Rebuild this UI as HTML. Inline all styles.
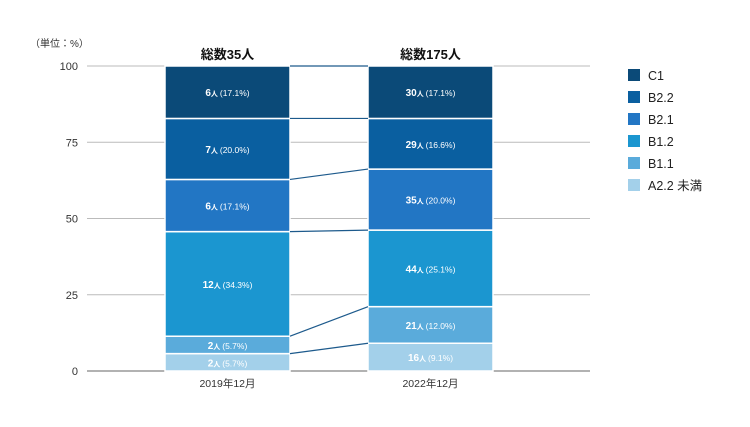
<!DOCTYPE html>
<html><head><meta charset="utf-8"><style>
body{margin:0;background:#fff;font-family:"Liberation Sans","Noto Sans CJK JP",sans-serif;}
svg text{font-family:"Liberation Sans","Noto Sans CJK JP",sans-serif;}
</style></head><body>
<svg id="c" width="750" height="422"></svg>
<script>
const categories=["2019年12月","2022年12月"];
const totals=["総数35人","総数175人"];
const levels=["A2.2 未満","B1.1","B1.2","B2.1","B2.2","C1"];
const counts2019=[2,2,12,6,7,6];
const pct2019=[5.7,5.7,34.3,17.1,20.0,17.1];
const counts2022=[16,21,44,35,29,30];
const pct2022=[9.1,12.0,25.1,20.0,16.6,17.1];
const ticks=[0,25,50,75,100];
const colors=["#a3d0ea","#5aabdb","#1b96d0","#2276c4","#0a5fa0","#0b4a78"];
const NS="http://www.w3.org/2000/svg";
const svg=document.getElementById('c');
function y(v){return 371-v*3.05;}
const barX=[165,368],barW=125;
function el(t,a,txt){const e=document.createElementNS(NS,t);for(const k in a)e.setAttribute(k,a[k]);if(txt!==undefined)e.textContent=txt;svg.appendChild(e);return e;}
let t=el('text',{x:30,y:47,'font-size':10,fill:'#333'},'（単位：%）');

ticks.forEach(v=>{
 const l=el('line',{x1:87,x2:590,y1:y(v),y2:y(v),stroke:v===0?'#666':'#bbb','stroke-width':1});
 
 const tt=el('text',{x:78,y:y(v)+4,'font-size':11,fill:'#333','text-anchor':'end'},v);
 
});
const series=[[counts2019,pct2019],[counts2022,pct2022]];
const bounds=[];
series.forEach((s,bi)=>{
 let cum=0;const b=[0];
 s[1].forEach((p,i)=>{
  const lo=cum,hi=(i===s[1].length-1)?100:cum+p;cum=hi;b.push(hi);
  const r=el('rect',{x:barX[bi],y:y(hi),width:barW,height:y(lo)-y(hi),fill:colors[i],stroke:'#fff','stroke-width':1.5});
  
  const tx=el('text',{x:barX[bi]+barW/2,y:(y(lo)+y(hi))/2+4,'text-anchor':'middle',fill:'#fff'});
  
  const a=document.createElementNS(NS,'tspan');a.setAttribute('font-size',10);a.setAttribute('font-weight','bold');a.textContent=s[0][i];tx.appendChild(a);
  const c=document.createElementNS(NS,'tspan');c.setAttribute('font-size',7);c.setAttribute('font-weight','bold');c.textContent='人 ';tx.appendChild(c);
  const d=document.createElementNS(NS,'tspan');d.setAttribute('font-size',8.5);d.textContent='('+p.toFixed(1)+'%)';tx.appendChild(d);
 });
 bounds.push(b);
 const tl=el('text',{x:barX[bi]+barW/2,y:59,'text-anchor':'middle','font-size':13,'font-weight':'bold',fill:'#111'},totals[bi]);
 
 const xl=el('text',{x:barX[bi]+barW/2,y:387,'text-anchor':'middle','font-size':10.5,fill:'#333'},categories[bi]);
 
});
for(let i=1;i<=6;i++){
 const l=el('line',{x1:barX[0]+barW,x2:barX[1],y1:y(bounds[0][i]),y2:y(bounds[1][i]),stroke:'#1d5a8c','stroke-width':1.2});
 
}
for(let i=5;i>=0;i--){
 const k=5-i,cy=75+k*22;
 const r=el('rect',{x:628,y:cy-6,width:12,height:12,fill:colors[i]});
 
 const tx=el('text',{x:648,y:cy+5,'font-size':12.5,fill:'#222'},levels[i]);
 
}
</script>
</body></html>
